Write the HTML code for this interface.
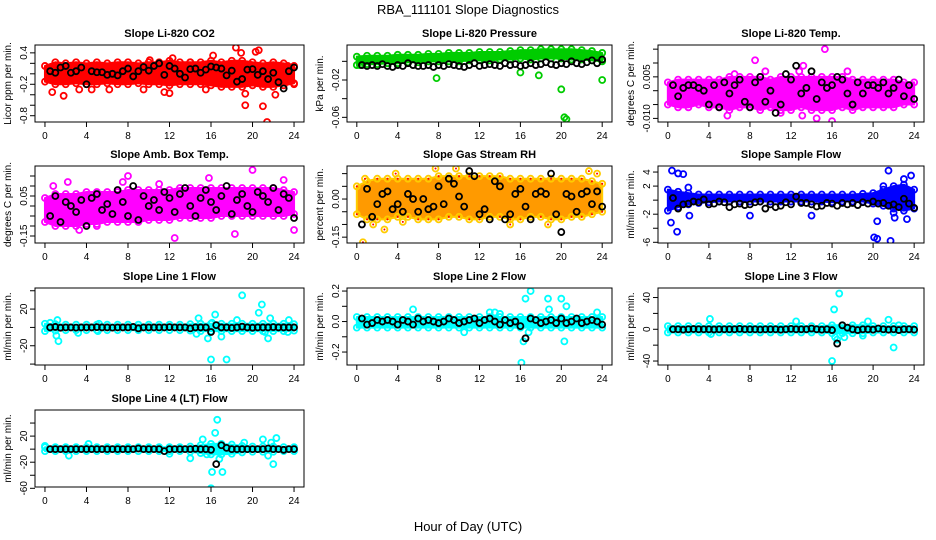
<!DOCTYPE html>
<html><head><meta charset="utf-8"><style>
html,body{margin:0;padding:0;background:#fff;}
svg{display:block;font-family:"Liberation Sans",sans-serif;}
</style></head><body>
<svg id="chart" width="936" height="540" viewBox="0 0 936 540">
<text x="468" y="14" text-anchor="middle" font-size="13">RBA_111101  Slope Diagnostics</text>
<text x="468" y="531" text-anchor="middle" font-size="13">Hour of Day (UTC)</text>
</svg>
<script>
const xTicks=[0,4,8,12,16,20,24];
const blackHours=[0.5,1,1.5,2,2.5,3,3.5,4,4.5,5,5.5,6,6.5,7,7.5,8,8.5,9,9.5,10,10.5,11,11.5,12,12.5,13,13.5,14,14.5,15,15.5,16,16.5,17,17.5,18,18.5,19,19.5,20,20.5,21,21.5,22,22.5,23,23.5,24];
const bandHours=[0,1,2,3,4,5,6,7,8,9,10,11,12,13,14,15,16,17,18,19,20,21,22,23,24];

const co2Lo=[-0.15,-0.2,-0.2,-0.18,-0.2,-0.2,-0.18,-0.2,-0.2,-0.18,-0.2,-0.2,-0.22,-0.2,-0.2,-0.2,-0.22,-0.25,-0.25,-0.25,-0.22,-0.25,-0.25,-0.22,-0.18];
const co2Hi=[0.15,0.22,0.2,0.22,0.2,0.22,0.2,0.22,0.22,0.2,0.22,0.22,0.25,0.22,0.22,0.22,0.25,0.22,0.25,0.25,0.22,0.2,0.22,0.2,0.15];
const co2OutX=[0.7,1.8,3.3,4.5,6.2,9.5,11.5,12,12.3,15.5,16.2,18.4,18.9,19.3,19.3,20.3,20.6,21,21.4,22.2,23.4,24,14,10.1];
const co2OutY=[-0.35,-0.42,-0.3,-0.3,-0.3,-0.3,-0.35,-0.37,0.3,-0.3,0.35,0.5,0.4,-0.38,-0.6,0.42,0.45,-0.62,-0.92,-0.4,0.15,-0.2,0.22,0.26];
const co2Black=[0.05,0.02,0.12,0.15,0.02,0.05,0.12,-0.2,0.05,0.03,0.03,-0.02,0,-0.03,0.05,0.1,-0.05,0.05,0.13,0.06,0.15,0.2,-0.02,0.15,0.1,0,-0.07,0.09,0.1,0.02,0.08,0.14,0.12,0.1,-0.03,0.06,-0.15,-0.1,0.08,0.09,-0.02,0.05,-0.1,0.02,-0.16,-0.28,0.05,0.12];

const pressLo=[-0.004,-0.003,-0.003,-0.002,-0.002,-0.001,-0.001,0,0,0,0,0.001,0.001,0.001,0.002,0.002,0.003,0.002,0.003,0.003,0.003,0.002,0.002,0.001,0];
const pressHi=[0.005,0.006,0.006,0.006,0.007,0.007,0.007,0.008,0.008,0.009,0.009,0.009,0.01,0.01,0.01,0.011,0.012,0.012,0.013,0.013,0.013,0.013,0.012,0.011,0.009];
const pressOutX=[0.3,7.8,16,17.8,20,20.3,20.5,24];
const pressOutY=[-0.004,-0.018,-0.012,-0.015,-0.03,-0.06,-0.062,-0.02];
const pressBlack=[-0.004,-0.005,-0.004,-0.005,-0.003,-0.005,-0.006,-0.004,-0.005,-0.002,-0.004,-0.005,-0.005,-0.004,-0.006,-0.004,-0.005,-0.003,-0.004,-0.005,-0.006,-0.004,-0.002,-0.005,-0.004,-0.003,-0.004,-0.005,-0.002,-0.004,-0.003,-0.005,-0.004,-0.002,-0.004,-0.003,-0.001,-0.003,-0.004,-0.002,-0.003,0.000,-0.002,-0.003,-0.001,0.001,-0.002,0.002];

const tempLo=[-0.005,-0.006,-0.006,-0.005,-0.006,-0.006,-0.007,-0.006,-0.006,-0.007,-0.006,-0.007,-0.007,-0.006,-0.007,-0.007,-0.007,-0.006,-0.007,-0.006,-0.006,-0.006,-0.006,-0.005,-0.005];
const tempHi=[0.003,0.004,0.004,0.004,0.004,0.004,0.005,0.005,0.005,0.005,0.004,0.005,0.005,0.005,0.005,0.005,0.005,0.005,0.004,0.004,0.004,0.004,0.004,0.003,0.003];
const tempOutX=[8.5,9.5,13.2,15.3,16,14.5,13.1,5.8,12.8,6.5,11,17.5];
const tempOutY=[0.011,0.007,0.009,0.015,-0.011,-0.010,-0.009,-0.009,0.007,0.006,-0.008,0.007];
const tempBlack=[0.002,-0.002,0.001,0.002,0.002,0.001,0,-0.005,0.002,-0.006,0.003,-0.001,0.002,0.004,-0.004,-0.006,0.003,0.005,-0.004,0,-0.008,-0.005,0.006,0.004,0.009,-0.001,0.001,0.007,-0.003,0.003,0.001,0.002,0.005,0.004,-0.001,-0.005,0.003,-0.001,0.002,0.002,0.001,0.003,-0.001,0.001,0.004,-0.002,0.002,-0.003];

const ambLo=[-0.08,-0.1,-0.1,-0.1,-0.09,-0.09,-0.08,-0.08,-0.08,-0.08,-0.07,-0.07,-0.07,-0.06,-0.06,-0.06,-0.06,-0.05,-0.05,-0.05,-0.05,-0.05,-0.05,-0.05,-0.04];
const ambHi=[0.04,0.06,0.06,0.06,0.07,0.07,0.07,0.07,0.08,0.08,0.08,0.08,0.08,0.09,0.09,0.09,0.09,0.09,0.09,0.09,0.09,0.09,0.09,0.08,0.07];
const ambOutX=[0.8,2.2,3.3,5,7.5,8,11,12.5,15.8,18.3,20,23,24];
const ambOutY=[0.1,0.12,-0.12,-0.1,0.12,0.15,0.11,-0.16,0.14,-0.14,0.18,0.13,-0.12];
const ambBlack=[-0.05,0.05,-0.08,0.02,0,-0.03,0.03,-0.1,0.04,0.06,-0.02,0.01,-0.04,0.08,0.02,-0.05,0.1,-0.07,0.05,0,0.03,-0.02,0.07,0.04,-0.03,0.06,0.09,0,-0.05,0.04,0.08,0.02,-0.02,0.05,0.1,-0.04,0.03,0.06,0,-0.03,0.07,0.05,0.02,0.09,-0.02,0.06,0.04,-0.06];

const rhLo=[-0.06,-0.08,-0.08,-0.08,-0.07,-0.07,-0.08,-0.08,-0.08,-0.07,-0.07,-0.08,-0.08,-0.07,-0.07,-0.08,-0.08,-0.07,-0.07,-0.08,-0.08,-0.07,-0.07,-0.06,-0.05];
const rhHi=[0.05,0.07,0.08,0.08,0.08,0.08,0.08,0.08,0.09,0.09,0.09,0.09,0.09,0.09,0.09,0.08,0.08,0.08,0.08,0.08,0.08,0.08,0.08,0.07,0.06];
const rhOutX=[0.6,1.6,2.7,3.8,7.7,9.7,15,18.7,22.7,23.5,0.8,4.5];
const rhOutY=[-0.17,-0.1,-0.12,0.1,0.12,0.12,-0.1,-0.1,0.11,0.1,0.08,-0.09];
const rhBlack=[-0.1,0.04,-0.07,-0.02,0.02,0.03,-0.04,-0.02,-0.05,0.02,0,-0.05,0,-0.04,-0.03,0.05,-0.02,0.08,0.06,0.01,-0.03,0.11,0.09,-0.06,-0.04,-0.08,0.07,0.05,-0.08,-0.06,0.02,0.04,-0.03,-0.08,0.02,0.03,0.02,0.1,-0.06,-0.13,0.02,0.01,-0.05,0.02,0.03,-0.02,0.03,-0.03];

const sampleLo=[-1.5,-1,-0.6,-0.4,-0.3,-0.2,-0.2,-0.2,-0.2,-0.2,-0.2,-0.2,-0.2,-0.2,-0.2,-0.2,-0.3,-0.2,-0.2,-0.2,-0.5,-0.8,-1.2,-1.5,-1.2];
const sampleHi=[1.5,1.2,1,0.8,0.8,0.8,0.8,0.8,0.8,0.8,0.8,0.8,0.8,0.8,0.8,0.8,0.8,0.8,0.8,0.9,1,1.5,2,2.2,1.5];
const sampleOutX=[0.3,0.4,1,1.5,0.9,2,2.1,8,14,20.1,20.4,20.4,21.5,21.7,22.1,23,23.7,23.3,21,22];
const sampleOutY=[-3.2,4.2,3.8,3.7,-4.5,1.8,-2.2,-2.2,-2.2,-5.3,-5.5,-3,4.2,-5.8,-2.5,3,3.5,-2.7,2,-1.8];
const sampleBlack=[0.3,-1.2,-0.6,-0.5,-0.2,-0.3,0.1,-0.6,-0.5,-0.2,-0.3,-1,-0.6,-0.5,-0.7,-0.6,-0.3,-0.2,-1.2,-0.6,-1,-0.8,-0.3,-0.6,0.5,-0.4,-0.4,-0.6,-0.9,-0.8,-0.4,-0.5,-0.8,-0.4,-0.6,-0.4,-0.7,-0.3,-0.5,-0.2,-0.5,-0.4,-0.8,-0.6,-1,0.2,-0.5,-1.1];

const line1Lo=[-4,-3.5,-3,-3,-3,-3,-3,-3,-3,-3,-3,-3,-3,-3,-3.5,-4,-4,-4,-4,-4,-4,-4,-4,-4,-3.5];
const line1Hi=[4,3.5,3,3,3,3,3,3,3,3,3,3,3,3,3.5,4,4,4,4,4,4,4,4,4,3.5];
const line1OutX=[0.5,1.1,1.3,1.2,3.2,5.1,5.2,14.6,14.8,15.7,16,16.1,16.4,17,17.5,18.5,19,20.6,20.9,21.2,21.5,21.7,23.5,23.4];
const line1OutY=[5,-9,-15,8,-6,-4,4,-7,10,-12,-35,5,14,-10,-35,8,35,16,25,-5,-12,10,8,-5];
const line1Black=[0,0.5,-0.3,0,0,-0.2,0,0,0,0.3,0,0,-0.2,0,0,0,0.5,-1,0,0,0,0,0,0.3,0,0,0,-1,0,0,0,-5,2.5,0,0,-0.5,0,0.8,0,-0.3,0,0,0,0.3,0,0,0,0];

const line2Lo=[-0.04,-0.04,-0.04,-0.04,-0.04,-0.04,-0.04,-0.04,-0.04,-0.04,-0.04,-0.04,-0.04,-0.04,-0.04,-0.04,-0.04,-0.04,-0.04,-0.04,-0.04,-0.04,-0.04,-0.04,-0.04];
const line2Hi=[0.03,0.03,0.03,0.03,0.03,0.03,0.03,0.03,0.03,0.03,0.03,0.03,0.03,0.03,0.03,0.03,0.03,0.03,0.03,0.03,0.03,0.03,0.03,0.03,0.03];
const line2OutX=[5.5,10.5,13,16.1,16.3,16.5,16.8,17,18.7,18.8,20,20.3,20.5,23.5,13.5,14];
const line2OutY=[0.08,-0.07,0.06,-0.27,-0.13,0.15,-0.07,0.2,0.15,0.08,0.15,-0.13,0.1,0.06,0.06,0.05];
const line2Black=[0.02,-0.02,-0.01,0.01,0,0.01,0,-0.02,0.01,0,-0.02,0.02,0,0.01,0,-0.01,0,0.02,0.01,-0.01,0,0.01,0.02,-0.01,0.01,0.02,0,-0.02,0.01,-0.01,0,-0.03,-0.11,0.02,0.01,-0.01,0,0.01,-0.01,0.02,-0.01,0,0.02,-0.01,0,0.01,0,-0.02];

const line3Lo=[-4,-4,-4,-4,-4,-4,-4,-4,-4,-4,-4,-4,-4,-4,-4,-4,-5,-5,-5,-5,-4,-4,-4,-4,-4];
const line3Hi=[4,4,4,4,4,4,4,4,4,4,4,4,4,4,4,4,5,5,5,5,4,4,4,4,4];
const line3OutX=[4.1,4.2,12.5,16,16.2,16.7,16.3,16.5,17.2,19.5,21.5,22,22.5,19];
const line3OutY=[13,-6,10,-40,25,45,-10,-13,-10,10,12,-23,5,-8];
const line3Black=[0,0,-0.5,0,0.3,0,0,0,-0.2,0,0,0,0,0.5,0,0,0,-0.3,0,0,0,-0.5,0,0.5,0,0,0,1,0,-0.5,0,-1,-18,5,2,0,-1,0,0,-0.5,1,0,-0.5,0,-1,0,0,-0.5];

const line4Lo=[-3,-3,-3,-3,-3,-3,-3,-3,-3,-3,-3,-3,-3,-3,-4,-6,-8,-8,-7,-5,-4,-4,-4,-3,-3];
const line4Hi=[3,3,3,3,3,3,3,3,3,3,3,3,3,3,4,6,8,8,7,5,4,4,4,3,3];
const line4OutX=[0,2.3,4.2,4.4,12,14,15.2,15.6,16,16.1,16.4,16.6,17.1,16.8,19.2,21,21.5,22,22.3,21.8];
const line4OutY=[5,-10,8,0.5,-7,-14,15,-8,-60,-35,25,45,-35,-15,10,15,-10,-23,17,10];
const line4Black=[0,0,0,0,0,0,0,0,0,0,0,0,0,0,0,0,0,1,0,0,0,0,-3,0,0,0,0,0,0.5,0,0,-1,-23,6,2,0,0,0,0,0,0,0,1,0,0,-1,0,0];

const NS='http://www.w3.org/2000/svg';
const svg=document.getElementById('chart');
function mk(tag,attrs,parent){const e=document.createElementNS(NS,tag);for(const k in attrs)e.setAttribute(k,attrs[k]);(parent||svg).appendChild(e);return e;}

const colL=[35,347,658],colR=[304,612,924];
const rowT=[45,166,288,410],rowH=77;

const panels=[
 {key:'co2',title:'Slope Li-820 CO2',ylab:'Licor ppm per min.',c:0,r:0,ymin:-0.92,ymax:0.55,ticks:[0.4,0.2,0,-0.2,-0.4,-0.6,-0.8],labels:['0.4','-0.2','-0.8'],labelVals:[0.4,-0.2,-0.8],lo:co2Lo,hi:co2Hi,ox:co2OutX,oy:co2OutY,bk:co2Black,col:'#ff0000',fill:'#ff0000'},
 {key:'pressure',title:'Slope Li-820 Pressure',ylab:'kPa per min.',c:1,r:0,ymin:-0.065,ymax:0.0175,ticks:[0,-0.02,-0.04,-0.06],labels:['-0.02','-0.06'],labelVals:[-0.02,-0.06],lo:pressLo,hi:pressHi,ox:pressOutX,oy:pressOutY,bk:pressBlack,col:'#00cc00',fill:'#00cc00'},
 {key:'temp',title:'Slope Li-820 Temp.',ylab:'degrees C per min.',c:2,r:0,ymin:-0.0113,ymax:0.0165,ticks:[0.015,0.01,0.005,0,-0.005,-0.01],labels:['0.005','-0.010'],labelVals:[0.005,-0.01],lo:tempLo,hi:tempHi,ox:tempOutX,oy:tempOutY,bk:tempBlack,col:'#ff00ff',fill:'#ff00ff'},
 {key:'amb',title:'Slope Amb. Box Temp.',ylab:'degrees C per min.',c:0,r:1,ymin:-0.185,ymax:0.2,ticks:[0.15,0.1,0.05,0,-0.05,-0.1,-0.15],labels:['0.05','-0.15'],labelVals:[0.05,-0.15],lo:ambLo,hi:ambHi,ox:ambOutX,oy:ambOutY,bk:ambBlack,col:'#ff00ff',fill:'#ff00ff'},
 {key:'rh',title:'Slope Gas Stream RH',ylab:'percent per min.',c:1,r:1,ymin:-0.173,ymax:0.13,ticks:[0.1,0.05,0,-0.05,-0.1,-0.15],labels:['0.00','-0.15'],labelVals:[0,-0.15],lo:rhLo,hi:rhHi,ox:rhOutX,oy:rhOutY,bk:rhBlack,col:'#ffcc00',fill:'#ff9a00',dot:'#ff0000'},
 {key:'sample',title:'Slope Sample Flow',ylab:'ml/min per min.',c:2,r:1,ymin:-6.1,ymax:4.86,ticks:[4,2,0,-2,-4,-6],labels:['4','2','-2','-6'],labelVals:[4,2,-2,-6],lo:sampleLo,hi:sampleHi,ox:sampleOutX,oy:sampleOutY,bk:sampleBlack,col:'#0000ff',fill:'#0000ff'},
 {key:'line1',title:'Slope Line 1 Flow',ylab:'ml/min per min.',c:0,r:2,ymin:-41,ymax:43,ticks:[40,20,0,-20,-40],labels:['20','-20'],labelVals:[20,-20],lo:line1Lo,hi:line1Hi,ox:line1OutX,oy:line1OutY,bk:line1Black,col:'#00ffff',fill:'#00ffff'},
 {key:'line2',title:'Slope Line 2 Flow',ylab:'ml/min per min.',c:1,r:2,ymin:-0.285,ymax:0.22,ticks:[0.2,0.1,0,-0.1,-0.2],labels:['0.2','0.0','-0.2'],labelVals:[0.2,0,-0.2],lo:line2Lo,hi:line2Hi,ox:line2OutX,oy:line2OutY,bk:line2Black,col:'#00ffff',fill:'#00ffff'},
 {key:'line3',title:'Slope Line 3 Flow',ylab:'ml/min per min.',c:2,r:2,ymin:-45,ymax:52,ticks:[40,20,0,-20,-40],labels:['40','0','-40'],labelVals:[40,0,-40],lo:line3Lo,hi:line3Hi,ox:line3OutX,oy:line3OutY,bk:line3Black,col:'#00ffff',fill:'#00ffff'},
 {key:'line4',title:'Slope Line 4 (LT) Flow',ylab:'ml/min per min.',c:0,r:3,ymin:-58,ymax:60,ticks:[40,20,0,-20,-40,-60],labels:['20','-20','-60'],labelVals:[20,-20,-60],lo:line4Lo,hi:line4Hi,ox:line4OutX,oy:line4OutY,bk:line4Black,col:'#00ffff',fill:'#00ffff'}
];

panels.forEach(p=>{
  const L=colL[p.c],R=colR[p.c],T=rowT[p.r],B=T+rowH;
  const pad=(R-L)*0.04/1.08;
  const xs=h=>L+pad+(h/24)*(R-L-2*pad);
  const ys=v=>B-(v-p.ymin)/(p.ymax-p.ymin)*(B-T);
  const g=mk('g',{});
  
  
  const cp=mk('clipPath',{id:'clip-'+p.key},g);
  mk('rect',{x:L,y:T,width:R-L,height:B-T},cp);
  const t=mk('text',{x:(L+R)/2,y:T-8,'text-anchor':'middle','font-size':'11','font-weight':'bold'},g);
  t.textContent=p.title;
  
  
  const yl=mk('text',{x:0,y:0,'text-anchor':'middle','font-size':'10',transform:`translate(${L-24},${(T+B)/2}) rotate(-90)`},g);
  yl.textContent=p.ylab;
  
  
  const xa=mk('g',{},g);
  
  
  mk('line',{x1:xs(xTicks[0]),x2:xs(xTicks[xTicks.length-1]),y1:B,y2:B,stroke:'#000'},xa);
  xTicks.forEach(h=>{
    mk('line',{x1:xs(h),x2:xs(h),y1:B,y2:B+5,stroke:'#000'},xa);
    const tl=mk('text',{x:xs(h),y:B+17,'text-anchor':'middle','font-size':'10'},xa);
    tl.textContent=String(h);
    
    
  });
  const ya=mk('g',{},g);
  
  
  p.ticks.forEach(v=>{
    const y=ys(v);
    if(y<T-1.5||y>B+1.5)return;
    mk('line',{x1:L-5,x2:L,y1:y,y2:y,stroke:'#000'},ya);
  });
  p.labelVals.forEach((v,i)=>{
    const tl=mk('text',{x:0,y:0,'text-anchor':'middle','font-size':'10',transform:`translate(${L-8},${ys(v)}) rotate(-90)`},ya);
    tl.textContent=p.labels[i];
    
    
  });
  const marks=mk('g',{'clip-path':`url(#clip-${p.key})`},g);
  let pts=bandHours.map((h,i)=>xs(h)+','+ys(p.hi[i]));
  pts=pts.concat(bandHours.slice().reverse().map((h,j)=>{const i=bandHours.length-1-j;return xs(h)+','+ys(p.lo[i]);}));
  const band=mk('polygon',{points:pts.join(' '),fill:p.fill,stroke:p.col,'stroke-width':'2','stroke-linejoin':'round'},marks);
  
  
  const ring=(x,y,stroke,name)=>{
    const c=mk('circle',{cx:x,cy:y,r:3,fill:'none',stroke:stroke,'stroke-width':'1.8'},marks);
    
    
    if(p.dot&&stroke!=='#000'){mk('circle',{cx:x,cy:y,r:1,fill:p.dot},marks);}
  };
  bandHours.forEach((h,i)=>{ring(xs(h),ys(p.hi[i]),p.col,'edge-point');ring(xs(h),ys(p.lo[i]),p.col,'edge-point');});
  p.ox.forEach((h,i)=>ring(xs(h),ys(p.oy[i]),p.col,'outlier-point'));
  p.bk.forEach((v,i)=>ring(xs(blackHours[i]),ys(v),'#000','black-point'));
  const box=mk('rect',{x:L,y:T,width:R-L,height:B-T,fill:'none',stroke:'#000'},g);
  
  
});
</script>
</body></html>
